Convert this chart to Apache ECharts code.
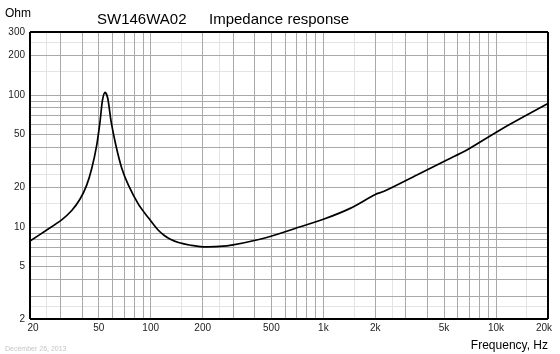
<!DOCTYPE html>
<html>
<head>
<meta charset="utf-8">
<script src="https://cdn.jsdelivr.net/npm/echarts@6/dist/echarts.min.js"></script>
<style>
html, body { margin: 0; padding: 0; background: #fff; }
#chart { width: 560px; height: 354px; }
</style>
</head>
<body>
<div id="chart"></div>
<script>
// impedance curve (Hz, Ohm)
const freq = [20, 24.5, 30.5, 34.9, 39, 42.6, 45.6, 48.7, 50.9, 52.6, 54.5, 56.4, 59, 62.8, 68, 74.3, 85, 97,
  110, 120, 130, 145, 170, 200, 250, 300, 470, 735, 1000, 1430, 2000, 2230, 3480, 5190, 6780, 10800, 20000];
const ohm = [7.8, 9.3, 11.3, 13.3, 16.25, 20.7, 27.8, 41.7, 62.7, 91.5, 104.7, 94.3, 62.7, 41.7, 27.8, 20.7, 14.8, 11.7,
  9.5, 8.6, 8.05, 7.6, 7.25, 7.05, 7.1, 7.3, 8.3, 10.0, 11.4, 13.8, 17.6, 18.5, 24.7, 32.1, 38.2, 55.2, 86];

const xTicks = [20, 50, 100, 200, 500, 1000, 2000, 5000, 10000, 20000];
const xTickLabels = ['20', '50', '100', '200', '500', '1k', '2k', '5k', '10k', '20k'];
const yTicks = [2, 5, 10, 20, 50, 100, 200, 300];
const yTickLabels = ['2', '5', '10', '20', '50', '100', '200', '300'];

const xMin = 20, xMax = 20000, yMin = 2, yMax = 300;
const FONT = 'Liberation Sans, Arial, sans-serif';

// log grid: 1..9 per decade in mid gray, 1.5 and 2.5 in light gray
function gridValues(lo, hi) {
  let major = [], minor = [];
  for (let d = 1; d <= hi; d *= 10) {
    for (let n = 1; n <= 9; n++) {
      const v = n * d;
      if (v > lo && v < hi) major.push(v);
    }
    [1.5, 2.5].forEach(m => {
      const v = m * d;
      if (v > lo && v < hi) minor.push(v);
    });
  }
  return { major, minor };
}

const gx = gridValues(xMin, xMax);
const gy = gridValues(yMin, yMax);
const solid = (color, width) => ({ color: color, width: width, type: 'solid' });
let lines = [];
gx.minor.forEach(v => lines.push({ xAxis: v, lineStyle: solid('#e4e4e4', 1) }));
gy.minor.forEach(v => lines.push({ yAxis: v, lineStyle: solid('#e4e4e4', 1) }));
gx.major.forEach(v => lines.push({ xAxis: v, lineStyle: solid('#a9a9a9', 1) }));
gy.major.forEach(v => lines.push({ yAxis: v, lineStyle: solid('#a9a9a9', 1) }));
// frame
[xMin, xMax].forEach(v => lines.push({ xAxis: v, lineStyle: solid('#000', 2) }));
[yMin, yMax].forEach(v => lines.push({ yAxis: v, lineStyle: solid('#000', 2) }));
// tick labels, hung on invisible lines
const hidden = solid('rgba(0,0,0,0)', 1);
xTicks.forEach((v, i) => lines.push({
  xAxis: v, lineStyle: hidden,
  label: {
    show: true, position: 'start', distance: 4, formatter: xTickLabels[i],
    offset: [v === xMin ? 3 : v === xMax ? -4 : 0, 0]
  }
}));
yTicks.forEach((v, i) => lines.push({
  yAxis: v, lineStyle: hidden,
  label: { show: true, position: 'start', distance: 5, formatter: yTickLabels[i] }
}));

const chart = echarts.init(document.getElementById('chart'));
const txt = (size, color) => ({ fontSize: size, fontWeight: 'normal', color: color || '#000', fontFamily: FONT });

chart.setOption({
  animation: false,
  title: [
    { text: 'Ohm', left: 5, top: 8, padding: 0, textStyle: txt(12) },
    { text: 'SW146WA02', left: 97, top: 12, padding: 0, textStyle: txt(15) },
    { text: 'Impedance response', left: 209, top: 12, padding: 0, textStyle: txt(15) },
    { text: 'Frequency, Hz', right: 12, top: 340, padding: 0, textStyle: txt(12) },
    { text: 'December 26, 2013', left: 5, top: 346, padding: 0, textStyle: txt(7, '#c4c4c4') }
  ],
  grid: { left: 30, right: 12, top: 32, bottom: 35 },
  xAxis: {
    type: 'log', logBase: 10, min: xMin, max: xMax,
    axisLine: { show: false }, axisTick: { show: false },
    axisLabel: { show: false }, splitLine: { show: false }
  },
  yAxis: {
    type: 'log', logBase: 10, min: yMin, max: yMax,
    axisLine: { show: false }, axisTick: { show: false },
    axisLabel: { show: false }, splitLine: { show: false }
  },
  series: [
    {
      name: 'grid',
      type: 'line',
      data: [],
      z: 1,
      markLine: {
        silent: true,
        symbol: ['none', 'none'],
        animation: false,
        label: { show: false, color: '#222', fontSize: 10, fontFamily: FONT },
        data: lines
      }
    },
    {
      name: 'Impedance',
      type: 'line',
      z: 5,
      data: freq.map((f, i) => [f, ohm[i]]),
      showSymbol: false,
      smooth: 0.3,
      lineStyle: { color: '#000', width: 1.7 }
    }
  ]
});
</script>
</body>
</html>
